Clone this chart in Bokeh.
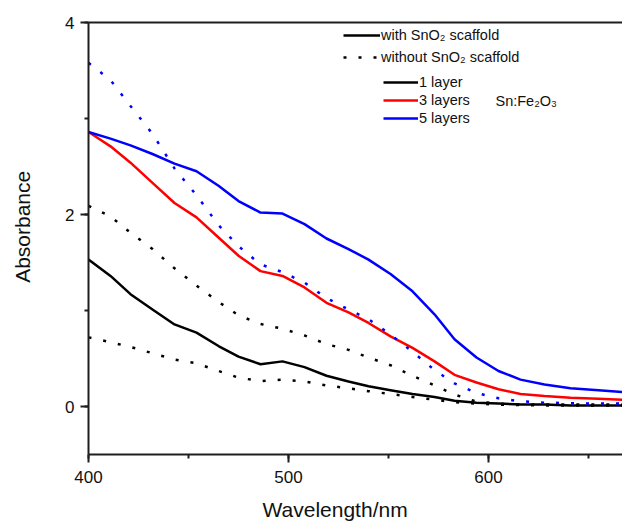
from bokeh.plotting import figure
from bokeh.models import (Range1d, SingleIntervalTicker, LinearAxis, FixedTicker,
                          Legend, LegendItem, Label)
from bokeh.embed import file_html
from bokeh.resources import INLINE

# ---- data ----
wavelength = [400, 411, 421, 432, 443, 454, 465, 475, 486, 497, 508, 519, 530,
              540, 551, 562, 573, 583, 594, 605, 616, 628, 641, 655, 667]

# with SnO2 scaffold (solid)
l1_with = [1.53, 1.36, 1.17, 1.01, 0.855, 0.77, 0.63, 0.52, 0.44, 0.47, 0.41, 0.32, 0.26,
           0.21, 0.17, 0.13, 0.10, 0.06, 0.04, 0.03, 0.02, 0.02, 0.01, 0.01, 0.01]
l3_with = [2.86, 2.71, 2.54, 2.33, 2.12, 1.97, 1.76, 1.57, 1.41, 1.36, 1.24, 1.08, 0.98,
           0.87, 0.73, 0.61, 0.47, 0.33, 0.25, 0.18, 0.13, 0.11, 0.09, 0.08, 0.07]
l5_with = [2.86, 2.79, 2.72, 2.63, 2.53, 2.45, 2.30, 2.14, 2.02, 2.01, 1.90, 1.75, 1.64,
           1.53, 1.38, 1.20, 0.96, 0.70, 0.51, 0.37, 0.28, 0.23, 0.19, 0.17, 0.15]

# without SnO2 scaffold (dotted)
l1_without = [0.72, 0.67, 0.62, 0.555, 0.49, 0.45, 0.37, 0.30, 0.265, 0.28, 0.26, 0.22, 0.19,
              0.16, 0.13, 0.10, 0.07, 0.045, 0.03, 0.02, 0.015, 0.01, 0.01, 0.01, 0.01]
l3_without = [2.09, 1.98, 1.81, 1.64, 1.44, 1.26, 1.09, 0.95, 0.86, 0.81, 0.74, 0.65, 0.59,
              0.51, 0.43, 0.32, 0.22, 0.125, 0.05, 0.03, 0.02, 0.02, 0.02, 0.02, 0.02]
l5_without = [3.58, 3.40, 3.13, 2.84, 2.48, 2.20, 1.89, 1.67, 1.48, 1.40, 1.29, 1.13, 1.01,
              0.91, 0.75, 0.57, 0.38, 0.24, 0.14, 0.085, 0.055, 0.04, 0.035, 0.03, 0.03]

layer_labels = ["1 layer", "3 layers", "5 layers"]
scaffold_labels = ["with SnO\u2082 scaffold", "without SnO\u2082 scaffold"]
sample_label = "Sn:Fe\u2082O\u2083"
x_title = "Wavelength/nm"
y_title = "Absorbance"

FONT = "Liberation Sans"
AX = "#1e1e1e"
NB = "\u00a0"

p = figure(width=622, height=523, output_backend="svg", toolbar_location=None, tools="",
           x_range=Range1d(400, 667), y_range=Range1d(-0.5, 4.0),
           min_border_left=88, min_border_right=0, min_border_top=22, min_border_bottom=69)
p.outline_line_color = None
p.grid.visible = False
p.background_fill_color = "white"
p.border_fill_color = "white"

for ax in (p.xaxis[0], p.yaxis[0]):
    ax.axis_line_color = AX
    ax.axis_line_width = 2
    ax.major_tick_line_color = AX
    ax.major_tick_line_width = 2
    ax.minor_tick_line_color = AX
    ax.minor_tick_line_width = 2
    ax.major_tick_in = 0
    ax.major_tick_out = 8
    ax.minor_tick_in = 0
    ax.minor_tick_out = 4
    ax.major_label_text_font = FONT
    ax.major_label_text_font_size = "17px"
    ax.major_label_text_color = "#111111"
    ax.axis_label_text_font = FONT
    ax.axis_label_text_font_size = "21px"
    ax.axis_label_text_font_style = "normal"
    ax.axis_label_text_color = "#111111"

p.xaxis[0].ticker = SingleIntervalTicker(interval=100, num_minor_ticks=2)
p.yaxis[0].ticker = SingleIntervalTicker(interval=2, num_minor_ticks=2)
p.xaxis[0].major_label_standoff = 8
p.yaxis[0].major_label_standoff = 6
p.xaxis[0].axis_label = x_title + NB * 7
p.xaxis[0].axis_label_standoff = 12
p.yaxis[0].axis_label = NB * 4 + y_title
p.yaxis[0].axis_label_standoff = 28

top = LinearAxis(ticker=FixedTicker(ticks=[]), major_label_text_font_size="0px",
                 major_tick_out=0, minor_tick_out=0, major_label_standoff=0,
                 axis_line_color=AX, axis_line_width=2)
p.add_layout(top, "above")

sw = 2.5
dash = "3 12"
r1w = p.line(wavelength, l1_with, line_color="black", line_width=sw)
r3w = p.line(wavelength, l3_with, line_color="#ff0000", line_width=sw)
r5w = p.line(wavelength, l5_with, line_color="#0000ff", line_width=sw)
r1o = p.line(wavelength, l1_without, line_color="black", line_width=sw, line_dash=dash)
r3o = p.line(wavelength, l3_without, line_color="black", line_width=sw, line_dash=dash)
r5o = p.line(wavelength, l5_without, line_color="#0000ff", line_width=sw, line_dash=dash)

def make_legend(items, loc, gw, spacing):
    lg = Legend(items=items, location=loc, orientation="vertical",
                border_line_color=None, background_fill_alpha=0,
                padding=0, margin=0, spacing=spacing,
                glyph_width=gw, glyph_height=14, label_height=14, label_standoff=1,
                label_text_font=FONT, label_text_font_size="14.5px",
                label_text_color="#111111")
    p.add_layout(lg)

make_legend([LegendItem(label=scaffold_labels[0], renderers=[r1w]),
             LegendItem(label=scaffold_labels[1], renderers=[r1o])],
            (255, 389), 37, 6)
make_legend([LegendItem(label=layer_labels[0], renderers=[r1w]),
             LegendItem(label=layer_labels[1], renderers=[r3w]),
             LegendItem(label=layer_labels[2], renderers=[r5w])],
            (295, 328), 35, 2)

p.add_layout(Label(x=603.5, y=3.18, text=sample_label, text_font=FONT,
                   text_font_size="14.5px", text_baseline="middle", text_color="#111111"))

open("out.html", "w").write(file_html(p, INLINE))
